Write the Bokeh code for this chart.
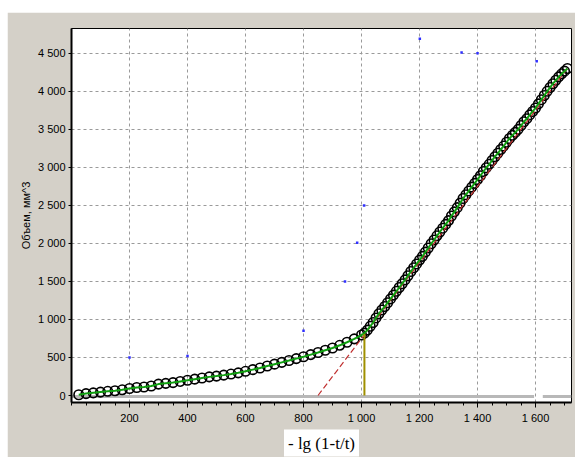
from bokeh.plotting import figure
from bokeh.models import Range1d, FixedTicker, Title, ColumnDataSource
from bokeh.embed import file_html
from bokeh.resources import INLINE

# measured curve (volume vs -lg(1-t/t))
x_low = [25, 50, 75, 100, 125, 150, 175, 200, 225, 250, 275, 300, 325, 350, 375, 400,
         425, 450, 475, 500, 525, 550, 575, 600, 625, 650, 675, 700, 725, 750, 775, 800,
         825, 850, 875, 900, 925, 950, 975, 1000]
y_low = [10, 25, 35, 45, 55, 62, 75, 92, 105, 112, 125, 150, 160, 170, 185, 200,
         215, 230, 245, 255, 268, 282, 298, 318, 340, 362, 388, 412, 436, 460, 485, 510,
         538, 565, 595, 625, 660, 700, 745, 795]
x_high = [1010, 1020, 1030, 1040, 1050, 1060, 1070, 1080, 1090, 1100, 1110, 1120, 1130,
          1140, 1150, 1160, 1170, 1180, 1190, 1200, 1210, 1220, 1230, 1240, 1250, 1260,
          1270, 1280, 1290, 1300, 1310, 1320, 1330, 1340, 1350, 1360, 1370, 1380, 1390,
          1400, 1410, 1420, 1430, 1440, 1450, 1460, 1470, 1480, 1490, 1500, 1510, 1520,
          1530, 1540, 1550, 1560, 1570, 1580, 1590, 1600, 1610, 1620, 1630, 1640, 1650,
          1660, 1670, 1680, 1690, 1700, 1710]
y_high = [820, 860, 910, 960, 1020, 1075, 1125, 1170, 1220, 1270, 1320, 1370, 1420,
          1470, 1520, 1575, 1630, 1680, 1730, 1780, 1830, 1885, 1940, 1995, 2045, 2100,
          2150, 2200, 2250, 2300, 2360, 2415, 2470, 2530, 2590, 2640, 2690, 2740, 2790,
          2840, 2890, 2945, 2995, 3040, 3090, 3140, 3185, 3235, 3280, 3330, 3380, 3420,
          3460, 3500, 3550, 3600, 3640, 3690, 3735, 3780, 3835, 3890, 3945, 4000, 4050,
          4100, 4145, 4190, 4230, 4265, 4300]

# linear fit (dashed red) and knee marker (olive)
fit_x = [850, 1710]
fit_y = [0, 4300]
knee_x = [1010, 1010]
knee_y = [0, 810]

# baseline strip
base_x1 = [0, 1595]
base_x2 = [1625, 1724]
base_y = [-12, -12]

# stray blue points
stray_x = [200, 400, 800, 943, 985, 1009, 1201, 1345, 1400, 1604]
stray_y = [500, 520, 850, 1500, 2010, 2500, 4690, 4510, 4500, 4395]

x_ticks = [200, 400, 600, 800, 1000, 1200, 1400, 1600]
x_tick_labels = ["200", "400", "600", "800", "1 000", "1 200", "1 400", "1 600"]
y_ticks = [0, 500, 1000, 1500, 2000, 2500, 3000, 3500, 4000, 4500]
y_tick_labels = ["0", "500", "1 000", "1 500", "2 000", "2 500", "3 000", "3 500",
                 "4 000", "4 500"]

xs = x_low + x_high
ys = y_low + y_high
src = ColumnDataSource(dict(x=xs, y=ys))

p = figure(width=568, height=445, output_backend="svg", toolbar_location=None,
           x_range=Range1d(0, 1724), y_range=Range1d(-92, 4826),
           min_border_left=64, min_border_top=16, min_border_right=4,
           min_border_bottom=53)
p.margin = (12, 0, 0, 7)
p.border_fill_color = "#d4d0c8"
p.background_fill_color = "white"
p.outline_line_color = "black"
p.outline_line_width = 1

p.xaxis.ticker = FixedTicker(ticks=x_ticks, minor_ticks=list(range(0, 1751, 50)))
p.yaxis.ticker = FixedTicker(ticks=y_ticks)
p.xaxis.major_label_overrides = {t: l for t, l in zip(x_ticks, x_tick_labels)}
p.yaxis.major_label_overrides = {t: l for t, l in zip(y_ticks, y_tick_labels)}

for ax in (p.xaxis[0], p.yaxis[0]):
    ax.axis_line_color = "black"
    ax.axis_line_width = 2
    ax.major_tick_line_color = "black"
    ax.minor_tick_line_color = "black"
    ax.major_tick_in = 0
    ax.minor_tick_in = 0
    ax.major_label_text_font = "Liberation Sans"
    ax.major_label_text_font_size = "11px"
    ax.major_label_text_color = "black"

p.xaxis.major_tick_out = 5
p.xaxis.minor_tick_out = 3
p.xaxis.major_label_standoff = 4
p.yaxis.major_tick_out = 3
p.yaxis.minor_tick_line_color = None
p.yaxis.major_label_standoff = 3

p.yaxis.axis_label = "Объем, мм^3"
p.yaxis.axis_label_text_font = "Liberation Sans"
p.yaxis.axis_label_text_font_size = "11px"
p.yaxis.axis_label_text_font_style = "normal"
p.yaxis.axis_label_text_color = "black"
p.yaxis.axis_label_standoff = 3

p.xgrid.ticker = FixedTicker(ticks=x_ticks)
p.ygrid.ticker = FixedTicker(ticks=y_ticks[1:])
for g in (p.xgrid[0], p.ygrid[0]):
    g.grid_line_color = "#9a9a9a"
    g.grid_line_dash = "3 3"
    g.grid_line_width = 1

p.line(base_x1, base_y, line_color="#b8b8b8", line_width=3)
p.line(base_x2, base_y, line_color="#b8b8b8", line_width=3)

p.scatter(stray_x, stray_y, marker="square", size=2.5, fill_color="#3030ff",
          line_color=None)

p.scatter("x", "y", source=src, marker="circle", size=9.5, fill_color=None,
          line_color="black", line_width=1.6)
p.line(fit_x, fit_y, line_color="#c03030", line_width=1.2, line_dash="6 3")
p.line("x", "y", source=src, line_color="#10a010", line_width=2)
p.line(knee_x, knee_y, line_color="#a09000", line_width=2)

xlabel = Title(text="- lg (1-t/t)", align="center", text_font="Liberation Serif",
               text_font_size="17px", text_font_style="normal", text_color="black",
               background_fill_color="white", padding=4, standoff=2)
p.add_layout(xlabel, "below")

open("out.html", "w").write(file_html(p, INLINE))
